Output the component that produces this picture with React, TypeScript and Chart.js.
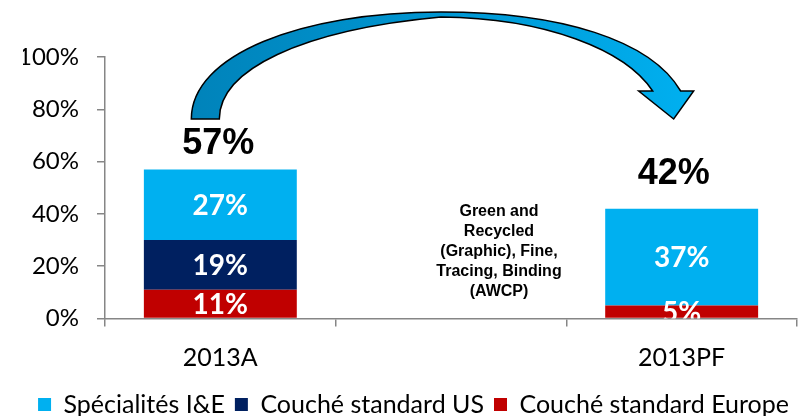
import React, { useEffect, useRef } from 'react';
import { Chart, registerables } from 'chart.js';

Chart.register(...registerables);

// Categories: the middle slot is left empty to hold the product note
const categories = ['2013A', '', '2013PF'];

// Stack order bottom → top
const europeValues = [11, null, 5];
const usValues = [19, null, null];
const specialtyValues = [27, null, 37];
const totalValues = [57, null, 42];

const yTicks = [0, 20, 40, 60, 80, 100];

const seriesNames = ['Couché standard Europe', 'Couché standard US', 'Spécialités I&E'];
const seriesColors = ['#C00000', '#002060', '#00B0F0'];

const noteLines = ['Green and', 'Recycled', '(Graphic), Fine,', 'Tracing, Binding', '(AWCP)'];

const AXIS_GREY = '#868686';
const LABEL_FONT = 'Lato, "Open Sans", sans-serif';
const BOLD_FONT = '"Liberation Sans", Arial, sans-serif';

// White percentage labels centred in each stacked segment, clipped to the plot
const segmentLabels = {
  id: 'segmentLabels',
  afterDatasetsDraw(chart: any) {
    const { ctx, chartArea } = chart;
    ctx.save();
    ctx.beginPath();
    ctx.rect(chartArea.left, chartArea.top, chartArea.right - chartArea.left, chartArea.bottom - chartArea.top);
    ctx.clip();
    ctx.fillStyle = '#FFFFFF';
    ctx.font = `bold 28px ${LABEL_FONT}`;
    ctx.textAlign = 'center';
    ctx.textBaseline = 'middle';
    chart.data.datasets.forEach((ds: any, di: number) => {
      const meta = chart.getDatasetMeta(di);
      meta.data.forEach((bar: any, i: number) => {
        const v = ds.data[i];
        if (v === null || v === undefined) return;
        ctx.fillText(`${v}%`, bar.x, (bar.y + bar.base) / 2 + 1);
      });
    });
    ctx.restore();
  },
};

// Bold totals above each stack
const totalLabels = {
  id: 'totalLabels',
  afterDatasetsDraw(chart: any, _args: any, opts: any) {
    const { ctx, scales } = chart;
    ctx.save();
    ctx.fillStyle = '#000000';
    ctx.font = `bold 36px ${BOLD_FONT}`;
    ctx.textAlign = 'center';
    ctx.textBaseline = 'middle';
    totalValues.forEach((v, i) => {
      if (v === null) return;
      const shift = opts.shifts[i] || { dx: 0, dy: -30 };
      const x = scales.x.getPixelForValue(i) + shift.dx;
      const y = scales.y.getPixelForValue(v) + shift.dy;
      ctx.fillText(`${v}%`, x, y);
    });
    ctx.restore();
  },
};

// Product note in the empty middle slot
const middleNote = {
  id: 'middleNote',
  afterDatasetsDraw(chart: any) {
    const { ctx, scales, chartArea } = chart;
    ctx.save();
    ctx.fillStyle = '#000000';
    ctx.font = `bold 16px ${BOLD_FONT}`;
    ctx.textAlign = 'center';
    ctx.textBaseline = 'middle';
    const cx = scales.x.getPixelForValue(1) + 48;
    const firstY = chartArea.bottom - 107;
    noteLines.forEach((line, k) => {
      ctx.fillText(line, cx, firstY + k * 20);
    });
    ctx.restore();
  },
};

// Curved arrow leading from the first stack to the second
const transitionArrow = {
  id: 'transitionArrow',
  afterDraw(chart: any) {
    const { ctx, scales, chartArea } = chart;
    const xa = scales.x.getPixelForValue(0);
    const xb = scales.x.getPixelForValue(2);
    const top = chartArea.top;
    const tailY = top + 62;
    const outerTop = top - 45;
    const innerTop = top - 40;
    const midX = (xa + xb) / 2 - 10;
    const neckY = top + 34;

    ctx.save();
    const grad = ctx.createLinearGradient(xa - 29, 0, xb + 12, 0);
    grad.addColorStop(0, '#0083BA');
    grad.addColorStop(0.5, '#0096D2');
    grad.addColorStop(1, '#00B0F0');

    ctx.beginPath();
    ctx.moveTo(xa - 29, tailY);
    ctx.bezierCurveTo(xa - 29, tailY - 64, xa + 80, outerTop, midX, outerTop);
    ctx.bezierCurveTo(midX + 120, outerTop, xb - 31, top - 17, xb - 1, neckY);
    ctx.lineTo(xb + 12, neckY);
    ctx.lineTo(xb - 8, tailY);
    ctx.lineTo(xb - 43, neckY);
    ctx.lineTo(xb - 29, neckY);
    ctx.bezierCurveTo(xb - 56, top - 7, xb - 136, innerTop + 1, midX, innerTop);
    ctx.bezierCurveTo(xa + 80, innerTop + 13, xa - 1, tailY - 49, xa - 1, tailY);
    ctx.closePath();
    ctx.fillStyle = grad;
    ctx.fill();
    ctx.lineWidth = 1.5;
    ctx.strokeStyle = '#000000';
    ctx.lineJoin = 'miter';
    ctx.stroke();
    ctx.restore();
  },
};

export default function App() {
  const canvasRef = useRef<HTMLCanvasElement | null>(null);

  useEffect(() => {
    const canvas = canvasRef.current;
    if (!canvas) return;

    const valueSets = [europeValues, usValues, specialtyValues];

    const chart = new Chart(canvas, {
      type: 'bar',
      data: {
        labels: categories,
        datasets: valueSets.map((values, k) => ({
          label: seriesNames[k],
          data: values,
          backgroundColor: seriesColors[k],
          borderWidth: 0,
          categoryPercentage: 1,
          barPercentage: 0.663,
        })),
      },
      plugins: [segmentLabels, totalLabels, middleNote, transitionArrow],
      options: {
        responsive: false,
        animation: false,
        devicePixelRatio: 1,
        layout: { padding: { left: 23, top: 57, right: 0, bottom: 0 } },
        plugins: {
          legend: {
            position: 'bottom',
            reverse: true,
            labels: {
              color: '#000000',
              font: { family: LABEL_FONT, size: 25 },
              boxWidth: 13,
              boxHeight: 13,
              padding: 10,
            },
          },
          tooltip: { enabled: false },
          totalLabels: {
            shifts: [{ dx: -2, dy: -25 }, null, { dx: -8, dy: -35 }],
          },
        } as any,
        scales: {
          x: {
            stacked: true,
            grid: {
              display: true,
              drawOnChartArea: false,
              drawTicks: true,
              tickLength: 8,
              color: AXIS_GREY,
              lineWidth: 1.5,
              offset: true,
            },
            border: { display: true, color: AXIS_GREY, width: 1.5 },
            ticks: {
              color: '#000000',
              font: { family: LABEL_FONT, size: 25 },
              padding: 16,
            },
            afterFit(scale: any) {
              scale.height = 63.5;
            },
          },
          y: {
            stacked: true,
            min: 0,
            max: 100,
            afterBuildTicks(scale: any) {
              scale.ticks = yTicks.map((v) => ({ value: v }));
            },
            grid: {
              display: true,
              drawOnChartArea: false,
              drawTicks: true,
              tickLength: 8,
              color: AXIS_GREY,
              lineWidth: 1.5,
            },
            border: { display: true, color: AXIS_GREY, width: 1.5 },
            ticks: {
              color: '#000000',
              font: { family: LABEL_FONT, size: 24 },
              padding: 18,
              callback: (v: any) => `${v}%`,
            },
            afterFit(scale: any) {
              scale.width = 82;
            },
          },
          // narrow blank gutter on the right so the plot ends just short of the edge
          gutter: {
            type: 'linear',
            position: 'right',
            display: true,
            grid: { display: false },
            border: { display: false },
            ticks: { display: false },
            afterFit(scale: any) {
              scale.width = 7;
            },
          },
        } as any,
      },
    });

    return () => chart.destroy();
  }, []);

  return (
    <div style={{ position: 'fixed', left: 0, top: 0, width: 804, height: 427, background: '#FFFFFF' }}>
      <canvas ref={canvasRef} width={804} height={427} style={{ display: 'block' }} />
    </div>
  );
}
